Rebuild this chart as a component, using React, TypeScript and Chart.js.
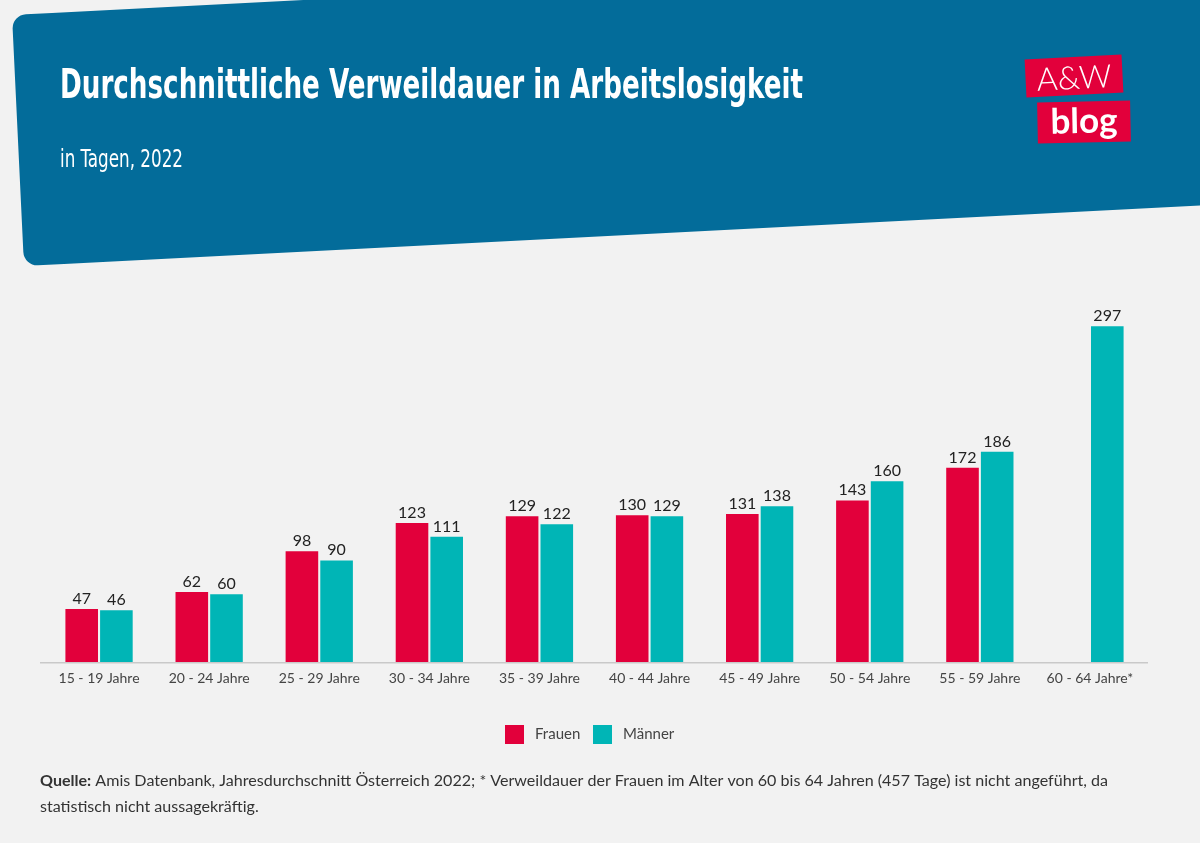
import React, { useEffect, useRef } from "react";
import { Chart, registerables } from "chart.js";

Chart.register(...registerables);

const categories = [
  "15 - 19 Jahre",
  "20 - 24 Jahre",
  "25 - 29 Jahre",
  "30 - 34 Jahre",
  "35 - 39 Jahre",
  "40 - 44 Jahre",
  "45 - 49 Jahre",
  "50 - 54 Jahre",
  "55 - 59 Jahre",
  "60 - 64 Jahre*",
];
const frauen: (number | null)[] = [47, 62, 98, 123, 129, 130, 131, 143, 172, null];
const maenner: number[] = [46, 60, 90, 111, 122, 129, 138, 160, 186, 297];

const TITLE = "Durchschnittliche Verweildauer in Arbeitslosigkeit";
const SUBTITLE = "in Tagen, 2022";
const SOURCE_BOLD = "Quelle:";
const SOURCE_LINE1 =
  " Amis Datenbank, Jahresdurchschnitt Österreich 2022; * Verweildauer der Frauen im Alter von 60 bis 64 Jahren (457 Tage) ist nicht angeführt, da";
const SOURCE_LINE2 = "statistisch nicht aussagekräftig.";

const RED = "#e2003b";
const TEAL = "#00b5b6";
const BLUE = "#036c9a";
const BG = "#f2f2f2";

const NARROW = '"Liberation Sans Narrow", "DejaVu Sans Condensed", "Noto Sans", sans-serif';
const BODY = 'Lato, "Noto Sans", sans-serif';

function fitText(ctx: CanvasRenderingContext2D, text: string, x: number, y: number, width: number) {
  const w = ctx.measureText(text).width;
  ctx.save();
  ctx.translate(x, y);
  ctx.scale(width / w, 1);
  ctx.fillText(text, 0, 0);
  ctx.restore();
}

const decor = {
  id: "decor",
  beforeDraw(chart: any) {
    const ctx: CanvasRenderingContext2D = chart.ctx;
    ctx.save();
    ctx.fillStyle = BG;
    ctx.fillRect(0, 0, chart.width, chart.height);

    // header shape
    const slope = -0.0515;
    const r = 14;
    const tl = { x: 12, y: 15 };
    const bl = { x: 24, y: 266 };
    ctx.fillStyle = BLUE;
    ctx.beginPath();
    ctx.moveTo(tl.x + 40, tl.y + slope * 40);
    ctx.lineTo(1210, tl.y + slope * (1210 - tl.x));
    ctx.lineTo(1210, bl.y + slope * (1210 - bl.x));
    ctx.lineTo(bl.x + 40, bl.y + slope * 40);
    ctx.arcTo(bl.x, bl.y, tl.x, tl.y, r);
    ctx.arcTo(tl.x, tl.y, tl.x + 40, tl.y + slope * 40, r);
    ctx.closePath();
    ctx.fill();

    // title
    ctx.fillStyle = "#ffffff";
    ctx.textBaseline = "alphabetic";
    ctx.textAlign = "left";
    ctx.font = `bold 40px ${NARROW}`;
    fitText(ctx, TITLE, 60, 98, 743);
    ctx.font = `25px ${NARROW}`;
    fitText(ctx, SUBTITLE, 60, 167, 123);

    // logo
    const box = (cx: number, cy: number, w: number, h: number, ang: number, text: string, font: string, ty: number) => {
      ctx.save();
      ctx.translate(cx, cy);
      ctx.rotate(ang);
      ctx.fillStyle = RED;
      ctx.fillRect(-w / 2, -h / 2, w, h);
      ctx.fillStyle = "#ffffff";
      ctx.font = font;
      ctx.textAlign = "center";
      ctx.textBaseline = "alphabetic";
      ctx.fillText(text, 0, ty);
      ctx.restore();
    };
    box(1074, 76, 97, 38, -0.05, "A&W", `300 32px ${BODY}`, 13);
    box(1084, 122, 93, 41, -0.02, "blog", `bold 35px ${BODY}`, 11);
    ctx.restore();
  },
  afterDatasetsDraw(chart: any) {
    const ctx: CanvasRenderingContext2D = chart.ctx;
    ctx.save();
    ctx.fillStyle = "#222222";
    ctx.font = `16px ${BODY}`;
    ctx.textAlign = "center";
    ctx.textBaseline = "alphabetic";
    chart.data.datasets.forEach((ds: any, i: number) => {
      const meta = chart.getDatasetMeta(i);
      meta.data.forEach((bar: any, j: number) => {
        const v = ds.data[j];
        if (v === null || v === undefined) return;
        ctx.fillText(String(v), bar.x, bar.y - 5);
      });
    });
    ctx.restore();
  },
  afterDraw(chart: any) {
    const ctx: CanvasRenderingContext2D = chart.ctx;
    const area = chart.chartArea;
    ctx.save();
    // axis line
    ctx.strokeStyle = "#c9c9c9";
    ctx.lineWidth = 1.5;
    ctx.beginPath();
    ctx.moveTo(40, area.bottom + 0.5);
    ctx.lineTo(1148, area.bottom + 0.5);
    ctx.stroke();

    // legend
    ctx.font = `15px ${BODY}`;
    ctx.textBaseline = "alphabetic";
    ctx.textAlign = "left";
    const items = chart.data.datasets.map((d: any) => ({ label: d.label, color: d.backgroundColor }));
    const xs = [505, 593];
    items.forEach((it: any, i: number) => {
      ctx.fillStyle = it.color;
      ctx.fillRect(xs[i], 725, 19, 19);
      ctx.fillStyle = "#444444";
      ctx.fillText(it.label, xs[i] + 30, 739);
    });

    // footer
    ctx.fillStyle = "#333333";
    ctx.font = `bold 15.5px ${BODY}`;
    const wb = ctx.measureText(SOURCE_BOLD).width;
    ctx.font = `15.5px ${BODY}`;
    const wr = ctx.measureText(SOURCE_LINE1).width;
    const sx = 1068 / (wb + wr);
    ctx.save();
    ctx.translate(40, 786);
    ctx.scale(sx, 1);
    ctx.font = `bold 15.5px ${BODY}`;
    ctx.fillText(SOURCE_BOLD, 0, 0);
    ctx.font = `15.5px ${BODY}`;
    ctx.fillText(SOURCE_LINE1, wb, 0);
    ctx.restore();
    ctx.save();
    ctx.translate(40, 812);
    ctx.scale(sx, 1);
    ctx.fillText(SOURCE_LINE2, 0, 0);
    ctx.restore();
    ctx.restore();
  },
};

export default function App() {
  const ref = useRef<HTMLCanvasElement | null>(null);
  useEffect(() => {
    if (!ref.current) return;
    const chart = new Chart(ref.current, {
      type: "bar",
      data: {
        labels: categories,
        datasets: [
          {
            label: "Frauen",
            data: frauen,
            backgroundColor: RED,
            borderWidth: 0,
            categoryPercentage: 0.63,
            barPercentage: 0.94,
          },
          {
            label: "Männer",
            data: maenner,
            backgroundColor: TEAL,
            borderWidth: 0,
            categoryPercentage: 0.63,
            barPercentage: 0.94,
          },
        ],
      },
      options: {
        responsive: false,
        animation: false,
        layout: { padding: { top: 289, left: 44, right: 55, bottom: 148 } },
        plugins: {
          legend: { display: false },
          tooltip: { enabled: false },
          title: { display: false },
        },
        scales: {
          x: {
            grid: { display: false, drawTicks: false },
            border: { display: false },
            ticks: {
              color: "#444444",
              font: { family: BODY, size: 14 },
              padding: 8,
              maxRotation: 0,
              autoSkip: false,
            },
          },
          y: {
            display: false,
            min: 0,
            max: 330,
          },
        },
      },
      plugins: [decor],
    });
    return () => chart.destroy();
  }, []);
  return (
    <div style={{ position: "absolute", left: 0, top: 0, width: 1200, height: 843 }}>
      <canvas ref={ref} width={1200} height={843} style={{ display: "block", width: 1200, height: 843 }} />
    </div>
  );
}
